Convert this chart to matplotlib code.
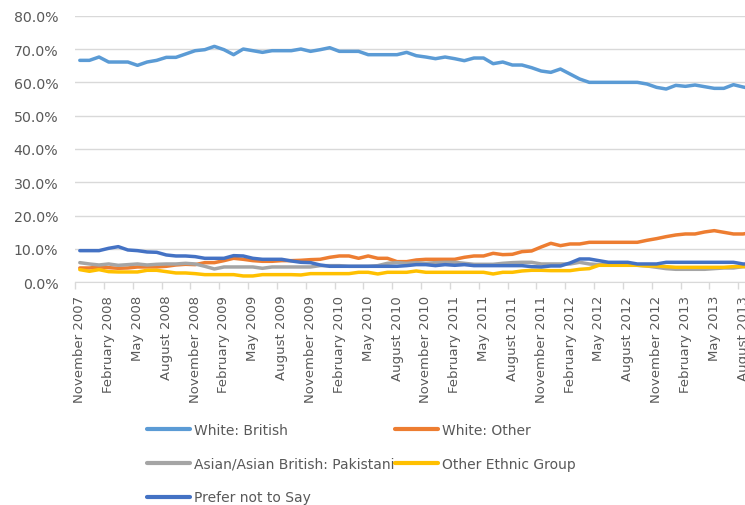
import matplotlib
matplotlib.use("Agg")
import matplotlib.pyplot as plt
import numpy as np

# --- DATA (monthly, November 2007 onwards, percent) ---
white_british = [66.6, 66.6, 67.6, 66.1, 66.1, 66.1, 65.1, 66.1, 66.6, 67.5,
                 67.5, 68.5, 69.5, 69.8, 70.8, 69.8, 68.3, 70.0, 69.5, 69.0,
                 69.5, 69.5, 69.5, 70.0, 69.3, 69.8, 70.4, 69.3, 69.3, 69.3,
                 68.3, 68.3, 68.3, 68.3, 69.0, 68.0, 67.6, 67.1, 67.6, 67.1,
                 66.5, 67.3, 67.3, 65.6, 66.1, 65.2, 65.2, 64.4, 63.4, 63.0,
                 64.0, 62.5, 61.0, 60.0, 60.0, 60.0, 60.0, 60.0, 60.0, 59.5,
                 58.5, 58.0, 59.1, 58.8, 59.2, 58.7, 58.2, 58.2, 59.3, 58.6,
                 58.0]
white_other = [4.3, 4.3, 4.6, 4.4, 4.2, 4.3, 4.6, 4.6, 4.6, 4.8,
               5.2, 5.4, 5.3, 5.9, 5.9, 6.5, 7.2, 6.9, 6.5, 6.3,
               6.3, 6.5, 6.5, 6.6, 6.8, 6.9, 7.5, 7.9, 7.9, 7.2,
               7.9, 7.2, 7.2, 6.2, 6.2, 6.7, 6.9, 6.9, 6.9, 6.9,
               7.5, 7.9, 7.9, 8.7, 8.3, 8.4, 9.2, 9.4, 10.6, 11.7,
               11.0, 11.5, 11.5, 12.0, 12.0, 12.0, 12.0, 12.0, 12.0, 12.6,
               13.1, 13.7, 14.2, 14.5, 14.5, 15.1, 15.5, 15.0, 14.5, 14.5,
               15.0]
pakistani = [5.9, 5.5, 5.2, 5.5, 5.1, 5.3, 5.5, 5.2, 5.4, 5.5,
             5.5, 5.7, 5.5, 4.8, 4.0, 4.6, 4.6, 4.6, 4.6, 4.2,
             4.6, 4.6, 4.6, 4.6, 4.6, 5.0, 5.0, 5.0, 4.8, 4.8,
             4.8, 5.0, 5.7, 5.9, 5.7, 5.9, 5.7, 5.9, 6.0, 6.0,
             5.7, 5.4, 5.4, 5.4, 5.7, 5.9, 6.0, 6.0, 5.5, 5.5,
             5.5, 5.5, 6.0, 5.5, 5.3, 5.3, 5.3, 5.3, 5.1, 4.9,
             4.5, 4.1, 3.9, 3.9, 3.9, 3.9, 4.1, 4.3, 4.3, 4.7,
             4.7]
other_ethnic = [3.8, 3.3, 3.8, 3.2, 3.1, 3.1, 3.1, 3.6, 3.6, 3.2,
                2.8, 2.8, 2.6, 2.3, 2.3, 2.3, 2.3, 1.9, 1.9, 2.3,
                2.3, 2.3, 2.3, 2.2, 2.6, 2.6, 2.6, 2.6, 2.6, 3.0,
                3.0, 2.5, 3.0, 3.0, 3.0, 3.4, 3.0, 3.0, 3.0, 3.0,
                3.0, 3.0, 3.0, 2.5, 3.0, 3.0, 3.4, 3.6, 3.6, 3.5,
                3.5, 3.5, 3.9, 4.1, 5.1, 5.1, 5.1, 5.1, 5.1, 4.9,
                4.9, 4.7, 4.5, 4.5, 4.5, 4.5, 4.5, 4.5, 4.7, 4.7,
                4.7]
prefer_not = [9.5, 9.5, 9.5, 10.2, 10.7, 9.7, 9.5, 9.1, 9.0, 8.2,
              7.9, 7.9, 7.7, 7.2, 7.2, 7.2, 8.0, 7.9, 7.2, 6.9,
              6.9, 6.9, 6.4, 6.0, 5.9, 5.2, 4.8, 4.8, 4.8, 4.8,
              4.8, 4.8, 4.8, 4.8, 5.0, 5.3, 5.3, 5.0, 5.3, 5.1,
              5.3, 5.0, 5.0, 5.0, 5.0, 5.0, 5.0, 4.7, 4.6, 4.9,
              4.9, 5.8, 7.0, 7.0, 6.5, 6.0, 6.0, 6.0, 5.5, 5.5,
              5.5, 6.0, 6.0, 6.0, 6.0, 6.0, 6.0, 6.0, 6.0, 5.5,
              5.5]

# every third month gets a label
tick_labels = ["November 2007", "February 2008", "May 2008", "August 2008",
               "November 2008", "February 2009", "May 2009", "August 2009",
               "November 2009", "February 2010", "May 2010", "August 2010",
               "November 2010", "February 2011", "May 2011", "August 2011",
               "November 2011", "February 2012", "May 2012", "August 2012",
               "November 2012", "February 2013", "May 2013", "August 2013"]

series = [
    ("White: British", white_british, "#5B9BD5"),
    ("White: Other", white_other, "#ED7D31"),
    ("Asian/Asian British: Pakistani", pakistani, "#A5A5A5"),
    ("Other Ethnic Group", other_ethnic, "#FFC000"),
    ("Prefer not to Say", prefer_not, "#4472C4"),
]

GRID = "#D9D9D9"
TEXT = "#595959"

fig = plt.figure(figsize=(7.45, 5.06), dpi=100)
ax = fig.add_axes([75 / 745, 1 - 283.3 / 506, 670 / 745, 266.6 / 506])

handles = {}
for name, vals, col in series:
    x = np.arange(len(vals))
    (ln,) = ax.plot(x, vals, color=col, lw=2.5, label=name,
                    solid_joinstyle="round", solid_capstyle="round")
    handles[name] = ln

ax.set_ylim(0, 80)
ax.set_xlim(-0.5, 69.2)
ax.set_yticks(np.arange(0, 81, 10))
ax.set_yticklabels([f"{v:.1f}%" for v in np.arange(0, 81, 10)])
ax.yaxis.grid(True, color=GRID, lw=1)
ax.set_axisbelow(True)

# labels sit on categories, tick marks on category boundaries
ax.set_xticks(np.arange(0, 3 * len(tick_labels), 3))
ax.set_xticklabels(tick_labels, rotation=90, va="top", ha="center")
ax.set_xticks(np.arange(-0.5, 71, 3), minor=True)
ax.tick_params(axis="x", which="major", length=0, pad=9, labelsize=9.5, labelcolor=TEXT)
ax.tick_params(axis="x", which="minor", length=5, color=GRID, width=1)
ax.tick_params(axis="y", length=0, pad=12, labelsize=10.2, labelcolor=TEXT)

for s in ["top", "right", "left"]:
    ax.spines[s].set_visible(False)
ax.spines["bottom"].set_color(GRID)

order = ["White: British", "Asian/Asian British: Pakistani", "Prefer not to Say",
         "White: Other", "Other Ethnic Group"]
leg = fig.legend([handles[k] for k in order], order, ncol=2, frameon=False,
                 loc="upper left", bbox_to_anchor=(147 / 745, 1 - 424 / 506),
                 borderaxespad=0, borderpad=0, handlelength=3.1, handletextpad=0.3,
                 columnspacing=0.0, labelspacing=1.42, fontsize=10)
for t in leg.get_texts():
    t.set_color(TEXT)
for h in leg.legend_handles:
    h.set_linewidth(3)

fig.savefig("out.png", dpi=100)
